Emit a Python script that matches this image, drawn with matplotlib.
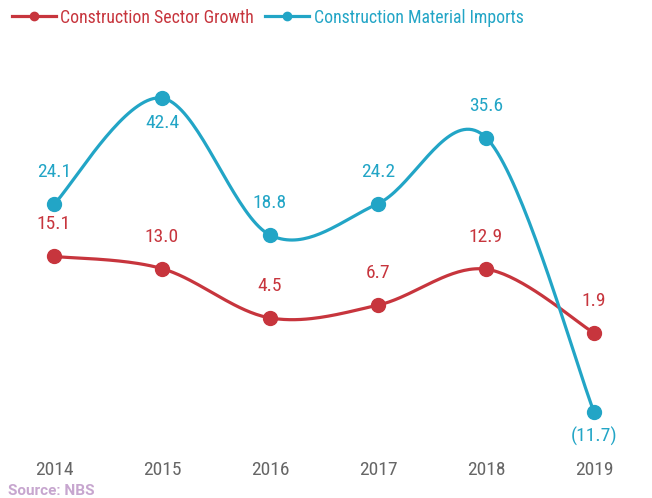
import numpy as np
import matplotlib.pyplot as plt

# data
years = [2014, 2015, 2016, 2017, 2018, 2019]
sector_growth = [15.1, 13.0, 4.5, 6.7, 12.9, 1.9]
material_imports = [24.1, 42.4, 18.8, 24.2, 35.6, -11.7]
sector_labels = ['15.1', '13.0', '4.5', '6.7', '12.9', '1.9']
imports_labels = ['24.1', '42.4', '18.8', '24.2', '35.6', '(11.7)']
imports_below = [False, True, False, False, False, True]

red = '#c7353d'
blue = '#22a5c6'
plt.rcParams['font.family'] = ['Roboto Condensed', 'Roboto', 'DejaVu Sans']


def catmull_rom(x, y, n=40):
    # smooth curve through the points (uniform catmull-rom)
    p = np.column_stack([x, y]).astype(float)
    p = np.vstack([p[0], p, p[-1]])
    out = []
    t = np.linspace(0, 1, n)[:, None]
    for i in range(1, len(p) - 2):
        p0, p1, p2, p3 = p[i - 1], p[i], p[i + 1], p[i + 2]
        seg = 0.5 * ((2 * p1) + (-p0 + p2) * t + (2 * p0 - 5 * p1 + 4 * p2 - p3) * t ** 2
                     + (-p0 + 3 * p1 - 3 * p2 + p3) * t ** 3)
        out.append(seg)
    out = np.vstack(out)
    return out[:, 0], out[:, 1]


fig = plt.figure(figsize=(6.52, 4.98), dpi=100)
ax = fig.add_axes([0, 43 / 498, 1, 455 / 498])

for vals, col in [(sector_growth, red), (material_imports, blue)]:
    sx, sy = catmull_rom(years, vals)
    ax.plot(sx, sy, color=col, lw=2.3, solid_capstyle='round', zorder=2)
    ax.plot(years, vals, 'o', color=col, ms=10, zorder=3)

for x, v, s in zip(years, sector_growth, sector_labels):
    ax.annotate(s, (x, v), xytext=(0, 23), textcoords='offset points', ha='center', va='center',
                color=red, fontsize=14)
for x, v, s, below in zip(years, material_imports, imports_labels, imports_below):
    off = -18 if below else 23
    ax.annotate(s, (x, v), xytext=(0, off), textcoords='offset points', ha='center', va='center',
                color=blue, fontsize=14)

ax.set_xlim(2014 - 54 / 108, 2014 + (652 - 54) / 108)
ax.set_ylim(-(455 - 344) / 5.8, 344 / 5.8)
ax.set_xticks(years)
ax.set_xticklabels([str(y) for y in years], fontsize=14, color='#666666')
ax.tick_params(axis='x', length=0, pad=4)
ax.set_yticks([])
for sp in ax.spines.values():
    sp.set_visible(False)

# legend drawn as line + dot + text
h1, = ax.plot([], [], '-o', color=red, lw=2.3, ms=6)
h2, = ax.plot([], [], '-o', color=blue, lw=2.3, ms=6)
leg = fig.legend([h1, h2], ['Construction Sector Growth', 'Construction Material Imports'],
                 loc='upper left', bbox_to_anchor=(8 / 652, 1 - 5 / 498), ncol=2, frameon=False,
                 fontsize=12.8, handlelength=2.5, handletextpad=0.25, columnspacing=0.6,
                 borderpad=0.2, borderaxespad=0)
leg.get_texts()[0].set_color(red)
leg.get_texts()[1].set_color(blue)

fig.text(8 / 652, 1 - 491 / 498, 'Source: NBS', color='#c7a6cf', fontsize=11, fontweight='bold',
         ha='left', va='center', family=['Roboto', 'DejaVu Sans'])

plt.savefig('out.png', dpi=100)
